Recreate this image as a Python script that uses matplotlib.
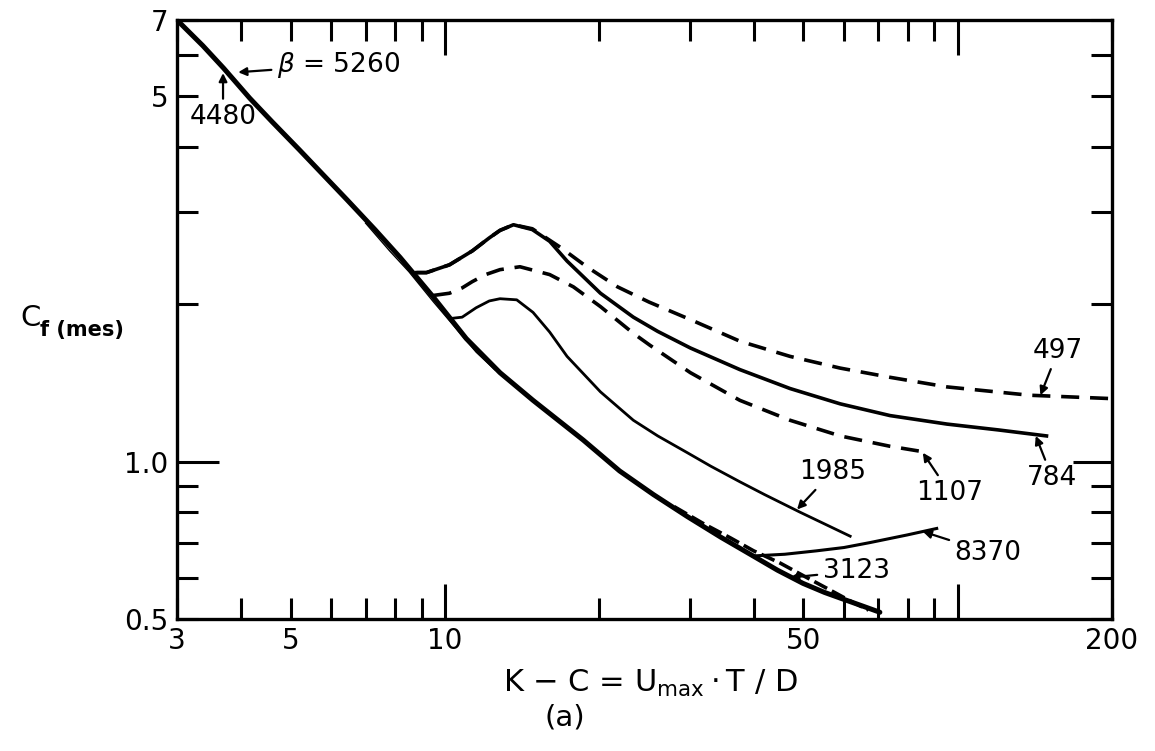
import matplotlib
matplotlib.use('Agg')
import matplotlib.pyplot as plt

plt.rcParams['font.family'] = ['DejaVu Sans']
plt.rcParams['mathtext.fontset'] = 'dejavusans'

# ---- curves (x = K-C, y = Cf(mes)) ----
env_x = [3.0, 3.37, 3.7, 4.16, 4.6, 5.2, 5.8, 6.44, 7.3, 8.17, 9.47, 11.0, 12.8, 14.85, 18.6, 21.9, 25.5, 29.7, 34.5, 39.9, 44.5, 49.9, 55.0, 60.0, 65.0, 70.5]
env_y = [7.0, 6.25, 5.66, 4.96, 4.47, 3.95, 3.53, 3.17, 2.78, 2.46, 2.07, 1.72, 1.48, 1.31, 1.10, 0.96, 0.865, 0.785, 0.717, 0.66, 0.62, 0.585, 0.562, 0.545, 0.53, 0.515]

b4480_x = [7.0, 7.8, 8.5, 9.5, 10.5, 11.5, 12.5]
b4480_y = [2.86, 2.53, 2.31, 2.02, 1.80, 1.62, 1.50]

b3123_x = [28.0, 32.0, 36.0, 40.0, 45.0, 50.0, 56.0, 62.0, 67.0]
b3123_y = [0.82, 0.76, 0.715, 0.675, 0.640, 0.605, 0.570, 0.540, 0.520]

b784_x = [8.8, 9.2, 10.2, 11.3, 12.2, 12.8, 13.6, 14.8, 16.0, 17.3, 20.1, 23.3, 26.0, 30.1, 37.6, 47.1, 59.0, 73.8, 95.3, 120.0, 149.0]
b784_y = [2.30, 2.30, 2.38, 2.53, 2.68, 2.77, 2.84, 2.78, 2.64, 2.42, 2.10, 1.89, 1.775, 1.65, 1.50, 1.38, 1.29, 1.225, 1.18, 1.15, 1.12]

b497_x = [8.8, 9.2, 10.2, 11.3, 12.2, 12.8, 13.6, 14.8, 16.8, 18.9, 21.7, 25.0, 30.1, 37.6, 47.1, 59.0, 73.8, 95.3, 138.0, 200.0]
b497_y = [2.30, 2.30, 2.38, 2.53, 2.68, 2.77, 2.84, 2.79, 2.57, 2.36, 2.16, 2.02, 1.87, 1.70, 1.59, 1.51, 1.45, 1.39, 1.34, 1.32]

b1107_x = [9.5, 10.2, 10.8, 11.3, 12.0, 12.8, 14.0, 16.0, 17.8, 20.1, 23.3, 25.1, 30.1, 37.6, 47.1, 59.0, 73.8, 88.0]
b1107_y = [2.08, 2.10, 2.15, 2.21, 2.28, 2.33, 2.36, 2.28, 2.16, 1.98, 1.76, 1.67, 1.48, 1.31, 1.20, 1.12, 1.07, 1.04]

b1985_x = [10.3, 10.8, 11.5, 12.2, 12.8, 13.8, 14.85, 16.0, 17.3, 20.1, 23.3, 26.0, 29.7, 33.0, 37.6, 42.0, 49.3, 55.0, 61.7]
b1985_y = [1.88, 1.89, 1.97, 2.03, 2.05, 2.04, 1.93, 1.77, 1.59, 1.36, 1.20, 1.12, 1.04, 0.98, 0.915, 0.865, 0.80, 0.76, 0.72]

b8370_x = [39.9, 46.0, 53.0, 60.0, 67.4, 79.7, 91.0]
b8370_y = [0.66, 0.665, 0.675, 0.685, 0.70, 0.724, 0.745]

xtick_vals = [3, 5, 10, 50, 100, 200]
xtick_labels = ['3', '5', '10', '50', '', '200']
xminor = [4, 6, 7, 8, 9, 20, 30, 40, 60, 70, 80, 90]
ytick_vals = [0.5, 1.0, 5, 7]
ytick_labels = ['0.5', '1.0', '5', '7']
yminor = [0.6, 0.7, 0.8, 0.9, 2, 3, 4, 6]

# ---- figure ----
fig = plt.figure(figsize=(11.55, 7.51), dpi=100)
ax = fig.add_axes([0.1532, 0.1758, 0.8096, 0.7976])
ax.set_xscale('log')
ax.set_yscale('log')
ax.set_xlim(3, 200)
ax.set_ylim(0.5, 7)

k = 'black'
ax.plot(env_x, env_y, color=k, lw=3.6, solid_capstyle='round', solid_joinstyle='round')
ax.plot(b4480_x, b4480_y, color=k, lw=1.0)
ax.plot(b3123_x, b3123_y, color=k, lw=2.6, linestyle=(0, (4, 1.5)))
ax.plot(b784_x, b784_y, color=k, lw=2.6, solid_joinstyle='round')
ax.plot(b497_x, b497_y, color=k, lw=2.6, linestyle=(0, (5, 3)))
ax.plot(b1107_x, b1107_y, color=k, lw=2.6, linestyle=(0, (5, 3)))
ax.plot(b1985_x, b1985_y, color=k, lw=2.0, solid_joinstyle='round')
ax.plot(b8370_x, b8370_y, color=k, lw=2.2)

# ---- ticks ----
ax.set_xticks(xtick_vals)
ax.set_xticklabels(xtick_labels)
ax.set_xticks(xminor, minor=True)
ax.set_yticks(ytick_vals)
ax.set_yticklabels(ytick_labels)
ax.set_yticks(yminor, minor=True)
ax.tick_params(which='both', direction='in', top=True, right=True,
               width=2.2, length=15, labelsize=20, pad=6)
ax.tick_params(which='minor', labelbottom=False, labelleft=False)
for t, v in zip(ax.xaxis.get_major_ticks(), xtick_vals):
    if v in (10, 100):
        t.tick1line.set_markersize(25)
        t.tick2line.set_markersize(25)
for t, v in zip(ax.yaxis.get_major_ticks(), ytick_vals):
    if v == 1.0:
        t.tick1line.set_markersize(30)
        t.tick2line.set_markersize(28)
for sp in ax.spines.values():
    sp.set_linewidth(2.4)

# ---- curve labels ----
arr = dict(arrowstyle='-|>', color=k, lw=1.6, mutation_scale=12, shrinkA=2, shrinkB=0)
fs = 19
ax.annotate(r'$\beta$ = 5260', xy=(3.95, 5.56), xytext=(4.7, 5.74), fontsize=fs,
            ha='left', va='center', arrowprops=arr)
ax.annotate('4480', xy=(3.69, 5.54), xytext=(3.69, 4.56), fontsize=fs,
            ha='center', va='center', arrowprops=arr)
ax.annotate('497', xy=(145, 1.34), xytext=(157, 1.63), fontsize=fs,
            ha='center', va='center', arrowprops=arr)
ax.annotate('784', xy=(142, 1.12), xytext=(153, 0.93), fontsize=fs,
            ha='center', va='center', arrowprops=arr)
ax.annotate('1107', xy=(85.5, 1.04), xytext=(96.6, 0.87), fontsize=fs,
            ha='center', va='center', arrowprops=arr)
ax.annotate('8370', xy=(85.5, 0.735), xytext=(114.6, 0.67), fontsize=fs,
            ha='center', va='center', arrowprops=arr)
ax.annotate('1985', xy=(48.6, 0.81), xytext=(56.9, 0.955), fontsize=fs,
            ha='center', va='center', arrowprops=arr)
ax.annotate('3123', xy=(47.1, 0.60), xytext=(63.4, 0.618), fontsize=fs,
            ha='center', va='center', arrowprops=arr)

# ---- axis titles ----
fig.text(0.018, 0.577, 'C', fontsize=21, ha='left', va='center')
fig.text(0.035, 0.56, 'f (mes)', fontsize=15, fontweight='bold', ha='left', va='center')
fig.text(0.5628, 0.0905, r'K $-$ C = U$_{\mathregular{max}}\cdot$T / D',
         fontsize=22, ha='center', va='center')
fig.text(0.489, 0.044, '(a)', fontsize=21, ha='center', va='center')

fig.savefig('out.png', dpi=100)
